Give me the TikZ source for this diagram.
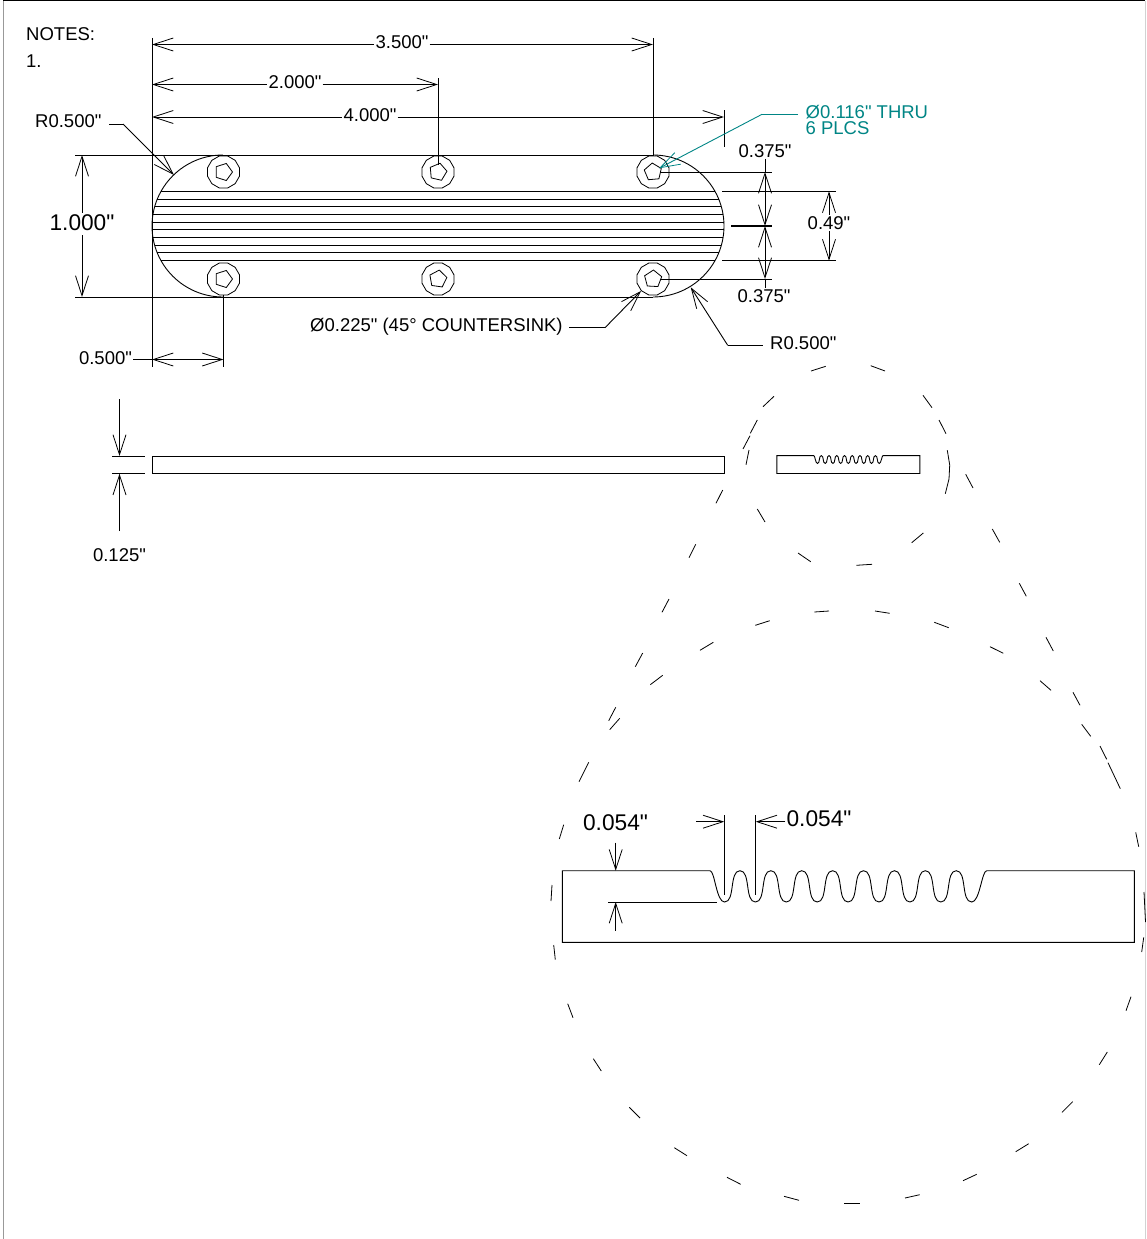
\documentclass[tikz,border=0pt]{standalone}
\usepackage{fontspec}
\setmainfont{Liberation Sans}[Ligatures=TeXOff]
\usetikzlibrary{arrows.meta,shapes.geometric}
\definecolor{leadteal}{RGB}{0,133,133}
\tikzstyle{myline}=[line width=0.9pt,black]
\tikzstyle{myarrow}=[myline,>={Straight Barb[length=20pt,width=13pt,line width=0.8pt]}]
\tikzstyle{dimtext}=[font=\fontsize{18.5}{18.5}\selectfont,inner sep=1pt]
\tikzstyle{bigtext}=[font=\fontsize{22.7}{22.7}\selectfont,inner sep=1pt]
\tikzstyle{holeout}=[draw,line width=0.8pt,shape=regular polygon,regular polygon sides=12,minimum size=33pt,inner sep=0pt]
\tikzstyle{holein}=[draw,line width=0.8pt,shape=regular polygon,regular polygon sides=5,minimum size=18pt,inner sep=0pt]
% ridged bar, drawn from its upper left corner
\newcommand{\ridgedbar}{
	\draw[myline] (147.7,0) -- (0,0) -- (0,71.6) -- (572,71.6) -- (572,0) -- (424.4,0)
		.. controls (419.5,0) and (417.5,31.3) .. (409.4,31.3)
		\foreach \k in {0,...,7} {
			.. controls ({409.4-30.9*\k-11},31.3) and ({409.4-30.9*\k-4.45},0) .. ({409.4-30.9*\k-15.45},0)
			.. controls ({409.4-30.9*\k-26.45},0) and ({409.4-30.9*\k-19.9},31.3) .. ({409.4-30.9*\k-30.9},31.3)
		}
		.. controls (154,31.3) and (152.5,0) .. (147.7,0);
}
\begin{document}
\begin{tikzpicture}[x=1pt,y=-1pt]
	\useasboundingbox (0,0) rectangle (1146,1239);
	\draw[gray!80,line width=1pt] (3,1239) -- (3,1);
	\draw[line width=1pt] (3,1) -- (1145,1);
	\draw[gray!35,line width=1pt] (1145,1) -- (1145,1239);

	\node[dimtext,anchor=west] (notes) at (25,34) {NOTES:};
	\node[dimtext,anchor=west] (note1) at (25,61) {1.};

	% plate
	\draw[myline] (223,155) arc[start angle=-90,end angle=-270,radius=71];
	\draw[myline] (653,297) arc[start angle=90,end angle=-90,radius=71];
	\draw[myline] (75,155) -- (653,155);
	\draw[myline] (75,297) -- (653,297);
	\foreach \y in {191.4,199.1,206.8,214.5,222.2,229.8,237.5,245.2,252.9,260.6} {
		\pgfmathsetmacro{\dx}{sqrt(71*71-(\y-226)*(\y-226))}
		\draw[myline] ({223-\dx},\y) -- ({653+\dx},\y);
	}
	\foreach \n / \x / \y / \r in {1/223.5/172/-90,2/438/172/-85,3/653/172/-67,4/223.5/279/-90,5/438/279/-80,6/653/279/-75} {
		\node[holeout,fill=white] (h\n) at (\x,\y) {};
		\node[holein,rotate=\r] (p\n) at (\x,\y) {};
	}

	% extension lines
	\coordinate (lefttop) at (152,38);
	\coordinate (leftbot) at (152,367);
	\draw[myline] (lefttop) -- (leftbot);
	\coordinate (e35) at (653,38);
	\coordinate (e20) at (438,78);
	\coordinate (e40a) at (724,110);
	\coordinate (e40b) at (724,147);
	\coordinate (e05) at (223.5,367);
	\draw[myline] (e35) -- (h3.north);
	\draw[myline] (e20) -- (438,165);
	\draw[myline] (e40a) -- (e40b);
	\draw[myline] (h4.south) -- (e05);

	% horizontal dimensions
	\foreach \n / \y / \xe / \xt / \ty / \txt in {a/44.5/653/402/42/3.500",b/84.5/438/295/82/2.000",c/117/724/370/115/4.000"} {
		\coordinate (\n1) at (152,\y);
		\coordinate (\n2) at (\xe,\y);
		\node[dimtext] (\n t) at (\xt,\ty) {\txt};
		\draw[myarrow,<-] (\n1) -- (\n1 -| \n t.west);
		\draw[myarrow,->] (\n1 -| \n t.east) -- (\n2);
	}
	\node[dimtext] (t05) at (105.5,358) {0.500"};
	\coordinate (d1) at (152,359.5);
	\coordinate (d2) at (223.5,359.5);
	\draw[myline] (d1 -| t05.east) -- (d1);
	\draw[myarrow,<->] (d1) -- (d2);

	% vertical dimensions
	\node[bigtext] (t10) at (82,223) {1.000"};
	\coordinate (v1) at (82,155);
	\coordinate (v2) at (82,297);
	\draw[myarrow,<-] (v1) -- (82,213);
	\draw[myarrow,->] (82,235) -- (v2);

	\coordinate (r1) at (660,172);
	\coordinate (r2) at (772,172);
	\coordinate (r3) at (731,226);
	\coordinate (r4) at (772,226);
	\coordinate (r5) at (660,279);
	\coordinate (r6) at (772,279);
	\coordinate (r7) at (722,191.4);
	\coordinate (r8) at (836,191.4);
	\coordinate (r9) at (722,260.6);
	\coordinate (r10) at (836,260.6);
	\draw[myline] (r1) -- (r2);
	\draw[myline,line width=1.2pt] (r3) -- (r4);
	\draw[myline] (r5) -- (r6);
	\draw[myline] (r7) -- (r8);
	\draw[myline] (r9) -- (r10);
	\node[dimtext] (t37a) at (765,151) {0.375"};
	\node[dimtext] (t37b) at (764,296) {0.375"};
	\node[dimtext] (t49) at (829,223) {0.49"};
	\coordinate (m1) at (765,172);
	\coordinate (m2) at (765,226);
	\coordinate (m3) at (765,279);
	\draw[myline] (t37a.south -| m1) -- (m1);
	\draw[myarrow,<->] (m1) -- (m2);
	\draw[myarrow,<->] (m2) -- (m3);
	\draw[myline] (m3) -- (t37b.north -| m3);
	\coordinate (n1) at (829,191.4);
	\coordinate (n2) at (829,260.6);
	\draw[myarrow,<-] (n1) -- (n1 |- t49.north);
	\draw[myarrow,->] (n2 |- t49.south) -- (n2);

	% leaders
	\node[dimtext,anchor=west] (r05a) at (34,121) {R0.500"};
	\coordinate (la) at (123,124);
	\coordinate (lb) at (174,175);
	\draw[myline] (109,124) -- (la);
	\draw[myarrow,->] (la) -- (lb);
	\node[dimtext,anchor=west] (r05b) at (769,343) {R0.500"};
	\coordinate (lc) at (727.7,345.3);
	\coordinate (ld) at (690.7,287.3);
	\draw[myline] (762.7,345.3) -- (lc);
	\draw[myarrow,->] (lc) -- (ld);
	\node[dimtext,anchor=west] (csk) at (309,326.5) {Ø0.225" (45° COUNTERSINK)};
	\coordinate (le) at (605,327.7);
	\coordinate (lf) at (641,291);
	\draw[myline] (569,327.7) -- (le);
	\draw[myarrow,->] (le) -- (lf);
	\node[dimtext,anchor=west,text=leadteal] (thru) at (804.5,112) {Ø0.116" THRU};
	\node[dimtext,anchor=west,text=leadteal] (plcs) at (804.5,128) {6 PLCS};
	\coordinate (lg) at (762,114.3);
	\coordinate (lh) at (659,168.3);
	\draw[myline,leadteal] (798,114.3) -- (lg);
	\draw[myarrow,leadteal,->] (lg) -- (lh);

	% side view
	\draw[myline] (152.3,456) rectangle (724,473.7);
	\coordinate (s1) at (112,456);
	\coordinate (s2) at (145,456);
	\coordinate (s3) at (112,473.7);
	\coordinate (s4) at (145,473.7);
	\draw[myline] (s1) -- (s2);
	\draw[myline] (s3) -- (s4);
	\node[dimtext] (t12) at (119.5,555) {0.125"};
	\draw[myarrow,->] (119.5,399) -- (119.5,456);
	\draw[myarrow,->] (119.5,531) -- (119.5,473.7);

	% details
	\begin{scope}[shift={(776.9,455.6)},scale=0.25]
		\ridgedbar
	\end{scope}
	\begin{scope}[shift={(562.3,870.7)}]
		\ridgedbar
	\end{scope}
	\coordinate (w1) at (724.3,815);
	\coordinate (w2) at (724.3,895);
	\coordinate (w3) at (755.7,815);
	\coordinate (w4) at (755.7,895);
	\draw[myline] (w1) -- (w2);
	\draw[myline] (w3) -- (w4);
	\node[bigtext] (t54a) at (819,819) {0.054"};
	\node[bigtext] (t54b) at (615.5,823) {0.054"};
	\draw[myarrow,->] (696,821.7) -- (724.3,821.7);
	\draw[myarrow,->] (t54a.west |- 0,821.7) -- (755.7,821.7);
	\coordinate (w5) at (608.3,902);
	\coordinate (w6) at (716.7,902);
	\draw[myline] (w5) -- (w6);
	\draw[myarrow,->] (615.7,842.7) -- (615.7,870.7);
	\draw[myarrow,->] (615.7,930.7) -- (615.7,902);

	% dashed circles and the lines between them
	\foreach \a / \b / \c / \d in {
		811/371/825.7/366.3, 870.7/365.7/885/371, 923/395.3/932/407.7, 939/420/946/433.7,
		949/479/945.3/493.7, 911.7/542.7/923.3/533, 856.3/565.3/872/564.3, 798/553/810.7/561.7,
		757.3/509/765/522, 746/464.7/749/450, 743/449/750/435.7, 750.3/433.3/757.3/420,
		763/406.7/774/396.3, 716/503.3/722.7/490, 689/557.7/695.7/544.3, 965.7/474.3/973/488,
		992.3/529/999.7/542.3, 1019.3/583.3/1026.3/596.3, 662/612.3/669/599, 635.3/666.7/642.7/653,
		650.3/684.7/662.7/675.3, 700/650.3/713.3/642.3, 755.3/625.3/769.7/620.7, 814.3/612/829/611,
		608.7/720.7/615.7/707.3, 609.7/729.7/619.7/718.3, 579/781.7/588.7/762.3, 559.3/839/563.7/824.7,
		552/885/551/901, 875/611/889.7/613.3, 934.3/622.3/948.7/627.7, 990/646.7/1003.3/653.3,
		1040/680.7/1051/690.3, 1081.7/724.3/1090.7/736.3, 1135.7/832.3/1138.7/846.7, 1046/637.3/1053.3/651,
		1073/692.3/1080/705.3, 1100/746/1106.7/759.3, 1108/762.7/1120.3/788.7, 553.7/945/555.3/959.7,
		567.7/1003.7/573/1017.7, 593.3/1058.7/601.3/1071, 629.3/1107.3/640/1118, 674.3/1147.7/687/1155.7,
		727/1177.3/740.7/1184.3, 784/1196.3/799/1200.3, 844.3/1203.3/860/1203.3, 905/1198/919.7/1194.7,
		963/1180.7/976.7/1174.3, 1015.7/1151.7/1028.7/1143.7, 1062/1112.3/1072.7/1101.7, 1099.3/1064.7/1107.3/1052,
		1126/1010.7/1131/996.7, 1141.7/952/1143.7/937.3, 1144/892/1145.5/922} {
		\draw[line width=0.8pt] (\a,\b) -- (\c,\d);
	}
	\draw[line width=0.8pt] (947.3,450.3) -- (949.7,465) -- (949,479);
\end{tikzpicture}
\end{document}
